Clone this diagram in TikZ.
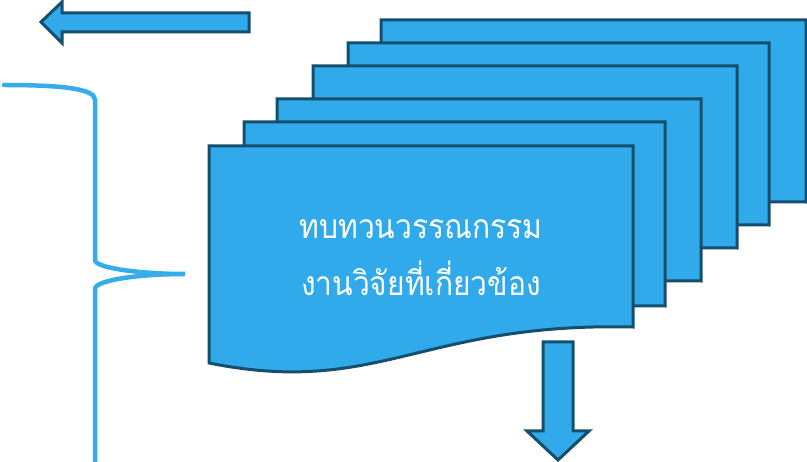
\documentclass[tikz,border=0pt]{standalone}
\usepackage{fontspec}
\newfontfamily\thaifont[Script=Thai]{Loma}
\definecolor{fillblue}{HTML}{30AAEA}
\definecolor{edgeblue}{HTML}{164E6E}
\definecolor{braceblue}{HTML}{35ADEA}
\begin{document}
\begin{tikzpicture}[x=1pt,y=-1pt,
  docst/.style={draw=edgeblue,fill=fillblue,line width=3pt,line join=miter},
  arrowst/.style={draw=edgeblue,fill=fillblue,line width=3pt,line join=miter},
  bracest/.style={draw=braceblue,line width=4.5pt,line cap=round},
  labelst/.style={text=white,font=\thaifont\fontsize{30}{57}\selectfont,align=center}]
\useasboundingbox (0,0) rectangle (807,462);
% stacked documents, back to front
\foreach \xa/\xb/\yt/\yr in {381/806/20/202,348/769/43/225,313/737/66/248,277/701/99/281,244/665/122/306,209/633/146/327}{
  \pgfmathsetmacro{\w}{\xb-\xa}
  \pgfmathsetmacro{\yl}{\yr+36}
  \draw[docst] (\xa,\yt) -- (\xb,\yt) -- (\xb,\yr)
    .. controls ({\xa+0.5*\w},{\yr-5}) and ({\xa+0.4*\w},{\yl+34}) .. (\xa,\yl) -- cycle;
}
\node[labelst] (lbl) at (421,258) {\scalebox{1}[1.12]{ทบทวนวรรณกรรม}\\\scalebox{1}[1.12]{งานวิจัยที่เกี่ยวข้อง}};
% left arrow
\draw[arrowst] (41,22) -- (62,2) -- (62,13) -- (249,13) -- (249,32) -- (62,32) -- (62,43) -- cycle;
% down arrow
\draw[arrowst] (543,342) -- (573,342) -- (573,431) -- (589,431) -- (558,460) -- (527,431) -- (543,431) -- cycle;
% brace
\coordinate (bt) at (4,85);
\coordinate (bm) at (185,274);
\coordinate (bb) at (95,470);
\draw[bracest] (bt) .. controls (70,85) and (95,90) .. (95,100) -- (95,260)
  .. controls (95,268) and (140,274) .. (bm)
  .. controls (140,274) and (95,280) .. (95,289) -- (bb);
\end{tikzpicture}
\end{document}
